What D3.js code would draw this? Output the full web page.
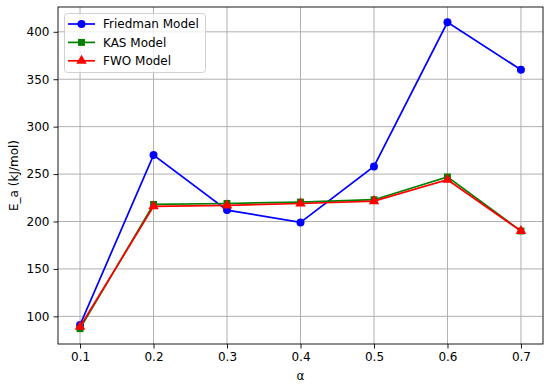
<!DOCTYPE html>
<html><head><meta charset="utf-8">
<script src="https://cdn.jsdelivr.net/npm/d3@7"></script>
<style>body{margin:0;background:#fff}svg{display:block}text{font-family:"DejaVu Sans",sans-serif}</style>
</head><body>
<script>
const alpha = [0.1, 0.2, 0.3, 0.4, 0.5, 0.6, 0.7];
const friedman = [91, 270, 212, 199, 258, 410, 360];
const kas = [87, 218, 219, 220.5, 223, 247, 190];
const fwo = [89, 216, 217, 219, 221.5, 244, 190];
const xTicks = [0.1, 0.2, 0.3, 0.4, 0.5, 0.6, 0.7];
const yTicks = [100, 150, 200, 250, 300, 350, 400];
const seriesNames = ["Friedman Model", "KAS Model", "FWO Model"];
const seriesColors = ["#0000ff", "#008000", "#ff0000"];
const seriesMarkers = ["circle", "square", "triangle"];
const seriesValues = [friedman, kas, fwo];

const W = 550, H = 387;
const m = {left: 58, right: 543, top: 7, bottom: 344};
const FS = 12;
const svg = d3.select("body").append("svg").attr("width", W).attr("height", H);

const x = d3.scaleLinear().domain([0.07, 0.73]).range([m.left, m.right]);
const allV = seriesValues.flat();
const ymin = d3.min(allV), ymax = d3.max(allV), pad = (ymax - ymin) * 0.05;
const y = d3.scaleLinear().domain([ymin - pad, ymax + pad]).range([m.bottom, m.top]);

// grid
const g = svg.append("g");
g.selectAll(".gx").data(xTicks).join("line")
  .attr("x1", d => x(d)).attr("x2", d => x(d)).attr("y1", m.top).attr("y2", m.bottom)
  .attr("stroke", "#b0b0b0").attr("stroke-width", 1);
g.selectAll(".gy").data(yTicks).join("line")
  .attr("y1", d => y(d)).attr("y2", d => y(d)).attr("x1", m.left).attr("x2", m.right)
  .attr("stroke", "#b0b0b0").attr("stroke-width", 1);

// axes
const xAxis = d3.axisBottom(x).tickValues(xTicks).tickFormat(d3.format(".1f")).tickSize(4.5).tickPadding(4);
const yAxis = d3.axisLeft(y).tickValues(yTicks).tickSize(4.5).tickPadding(4);
const ax = svg.append("g").attr("transform", `translate(0,${m.bottom})`).call(xAxis);
const ay = svg.append("g").attr("transform", `translate(${m.left},0)`).call(yAxis);
[ax, ay].forEach(a => {
  a.select(".domain").remove();
  a.selectAll("text").attr("font-size", FS).attr("fill", "#000").attr("font-family", "DejaVu Sans");
  a.selectAll("line").attr("stroke", "#000").attr("stroke-width", 0.9);
});

// lines and markers
const sym = {circle: d3.symbolCircle, square: d3.symbolSquare, triangle: d3.symbolTriangle};
const symSize = {circle: 50, square: 48, triangle: 48};
const line = d3.line().x((d, i) => x(alpha[i])).y(d => y(d));
seriesValues.forEach((vals, k) => {
  svg.append("path").datum(vals).attr("d", line).attr("fill", "none")
    .attr("stroke", seriesColors[k]).attr("stroke-width", 1.7);
  svg.selectAll(".m" + k).data(vals).join("path")
    .attr("transform", (d, i) => `translate(${x(alpha[i])},${y(d)})`)
    .attr("d", d3.symbol().type(sym[seriesMarkers[k]]).size(symSize[seriesMarkers[k]]))
    .attr("fill", seriesColors[k]);
});

// frame
svg.append("rect").attr("x", m.left).attr("y", m.top).attr("width", m.right - m.left).attr("height", m.bottom - m.top)
  .attr("fill", "none").attr("stroke", "#000").attr("stroke-width", 0.9);

// labels
svg.append("text").attr("x", (m.left + m.right) / 2).attr("y", 380).attr("text-anchor", "middle")
  .attr("font-size", FS).text("α");
svg.append("text").attr("transform", `translate(18,${(m.top + m.bottom) / 2}) rotate(-90)`)
  .attr("text-anchor", "middle").attr("font-size", FS).text("E_a (kJ/mol)");

// legend
const lg = svg.append("g");
lg.append("rect").attr("x", 64.5).attr("y", 13.5).attr("width", 141).attr("height", 59).attr("rx", 3)
  .attr("fill", "#fff").attr("fill-opacity", 0.8).attr("stroke", "#cccccc").attr("stroke-width", 0.9);
seriesNames.forEach((name, k) => {
  const yy = 24 + k * 18.4;
  lg.append("line").attr("x1", 68).attr("x2", 95).attr("y1", yy).attr("y2", yy)
    .attr("stroke", seriesColors[k]).attr("stroke-width", 1.7);
  lg.append("path").attr("transform", `translate(81.5,${yy})`)
    .attr("d", d3.symbol().type(sym[seriesMarkers[k]]).size(symSize[seriesMarkers[k]]))
    .attr("fill", seriesColors[k]);
  lg.append("text").attr("x", 103).attr("y", yy).attr("dy", "0.35em").attr("font-size", FS).text(name);
});
</script>
</body></html>
